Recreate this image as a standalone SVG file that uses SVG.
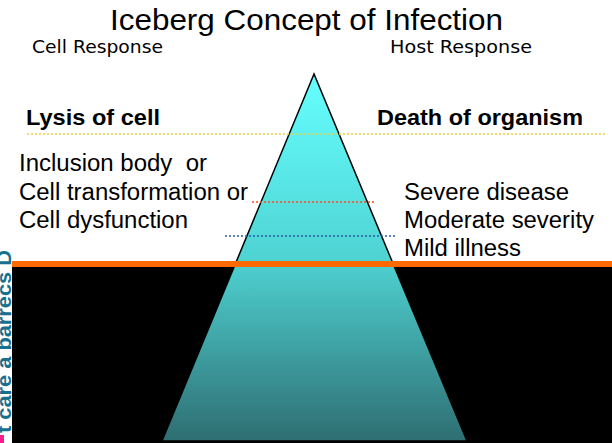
<svg xmlns="http://www.w3.org/2000/svg" width="612" height="443" viewBox="0 0 612 443">
<defs>
<linearGradient id="ice" x1="0" y1="74" x2="0" y2="441" gradientUnits="userSpaceOnUse">
<stop offset="0" stop-color="#66ffff"/>
<stop offset="0.5" stop-color="#4fd3d3"/>
<stop offset="1" stop-color="#2e6e72"/>
</linearGradient>
<style>
.t{font-family:"Liberation Sans",Arial,sans-serif;fill:#000}
.h{font-family:"DejaVu Sans",Verdana,sans-serif;fill:#000}
.b{font-family:"Liberation Sans",Arial,sans-serif;font-weight:bold;fill:#000}
.dot{fill:none;stroke-dasharray:2 2}
</style>
</defs>
<rect width="612" height="443" fill="#fff"/>
<rect id="sea" x="12" y="264" width="600" height="179" fill="#000"/>
<g id="iceberg">
<polygon points="314,74 162,441 467,441" fill="url(#ice)" stroke="#000" stroke-width="1.5" stroke-linejoin="miter"/>
</g>
<g id="connectors">
<line class="dot" x1="27" y1="134" x2="606" y2="134" stroke="#f2cf3a" stroke-width="1.5"/>
<line class="dot" x1="252" y1="202" x2="376" y2="202" stroke="#ff4a1a" stroke-width="1.3"/>
<line class="dot" x1="225" y1="236" x2="396" y2="236" stroke="#2a5fa0" stroke-width="1.3"/>
<line x1="12" y1="264" x2="612" y2="264" stroke="#ff6a00" stroke-width="6"/>
</g>
<g id="title"><text class="t" x="306.5" y="30" font-size="30" text-anchor="middle" textLength="393" lengthAdjust="spacingAndGlyphs">Iceberg Concept of Infection</text></g>
<g id="cell-response"><text class="h" x="32" y="53" font-size="17" textLength="131" lengthAdjust="spacingAndGlyphs">Cell Response</text></g>
<g id="host-response"><text class="h" x="390" y="53" font-size="17" textLength="142" lengthAdjust="spacingAndGlyphs">Host Response</text></g>
<g id="lysis"><text class="b" x="26" y="125" font-size="22.5" textLength="134" lengthAdjust="spacingAndGlyphs">Lysis of cell</text></g>
<g id="death"><text class="b" x="377" y="125" font-size="22.5" textLength="206" lengthAdjust="spacingAndGlyphs">Death of organism</text></g>
<g id="cell-left">
<text class="t" x="19" y="171" font-size="23" textLength="188" lengthAdjust="spacingAndGlyphs" xml:space="preserve">Inclusion body  or</text>
<text class="t" x="19" y="200" font-size="23" textLength="229" lengthAdjust="spacingAndGlyphs">Cell transformation or</text>
<text class="t" x="19" y="228" font-size="23" textLength="169" lengthAdjust="spacingAndGlyphs">Cell dysfunction</text>
</g>
<g id="host-right">
<text class="t" x="404" y="200" font-size="23" textLength="165" lengthAdjust="spacingAndGlyphs">Severe disease</text>
<text class="t" x="404" y="228" font-size="23" textLength="190" lengthAdjust="spacingAndGlyphs">Moderate severity</text>
<text class="t" x="404" y="256" font-size="23" textLength="117" lengthAdjust="spacingAndGlyphs">Mild illness</text>
</g>
<g id="side-text">
<text font-family="Liberation Sans,Arial,sans-serif" font-weight="bold" font-size="20" fill="#17708e" transform="translate(11,433) rotate(-90)" textLength="183" lengthAdjust="spacingAndGlyphs">t care a barrecs D</text>
<rect x="0" y="435" width="4" height="8" fill="#ff1a8c"/>
</g>
</svg>
